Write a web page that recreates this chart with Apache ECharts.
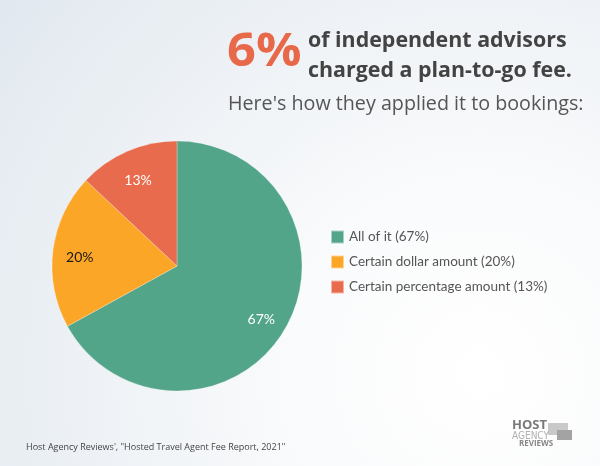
<!DOCTYPE html>
<html>
<head>
<meta charset="utf-8">
<script src="https://cdn.jsdelivr.net/npm/echarts@6/dist/echarts.min.js"></script>
<style>html,body{margin:0;padding:0;}#c{width:600px;height:466px;}</style>
</head>
<body>
<div id="c"></div>
<script>
const categories = ['All of it', 'Certain dollar amount', 'Certain percentage amount'];
const values = [67, 20, 13];
const colors = ['#53a58a', '#fca628', '#e86b4e'];
const labelColors = ['#ffffff', '#1a1a1a', '#ffffff'];

const chart = echarts.init(document.getElementById('c'), null, {renderer: 'canvas'});
const data = categories.map((n, i) => ({name: n, value: values[i], itemStyle: {color: colors[i]}}));
const labelData = categories.map((n, i) => ({
  name: n, value: values[i],
  itemStyle: {color: 'rgba(0,0,0,0)'},
  label: {color: labelColors[i]}
}));

chart.setOption({
  backgroundColor: {
    type: 'radial', x: 0.8, y: 0.8, r: 1.3,
    colorStops: [{offset: 0, color: '#ffffff'}, {offset: 0.3, color: '#fafbfc'}, {offset: 1, color: '#e1e8ef'}]
  },
  animation: false,
  legend: {
    orient: 'vertical', left: 330, top: 229.5, padding: 0,
    itemWidth: 13, itemHeight: 13, itemGap: 10, icon: 'rect',
    data: categories,
    textStyle: {fontFamily: 'Lato', fontSize: 13.5, color: '#555'},
    formatter: name => name + ' (' + values[categories.indexOf(name)] + '%)'
  },
  series: [
    {
      type: 'pie', center: [177, 266], radius: [0, 125], startAngle: 90, clockwise: true,
      data: data, label: {show: false}, labelLine: {show: false},
      itemStyle: {borderColor: 'rgba(255,255,255,0.5)', borderWidth: 0.5},
      emphasis: {disabled: true}
    },
    {
      type: 'pie', center: [177, 266], radius: [65, 125], startAngle: 90, clockwise: true,
      data: labelData, silent: true, legendHoverLink: false,
      label: {show: true, position: 'inside', fontFamily: 'Lato', fontSize: 14,
        formatter: p => p.value + '%'},
      labelLayout: {dy: 4},
      labelLine: {show: false},
      emphasis: {disabled: true}
    }
  ],
  graphic: [
    {type: 'text', left: 227, top: 29.5, scaleX: 1.1, style: {text: '6%', font: 'bold 46px "Open Sans"', fill: '#e8694a'}},
    {type: 'text', left: 308, top: 30.5, style: {text: 'of independent advisors', font: 'bold 21.4px "Open Sans"', fill: '#434343'}},
    {type: 'text', left: 308, top: 60.5, style: {text: 'charged a plan-to-go fee.', font: 'bold 21.4px "Open Sans"', fill: '#434343'}},
    {type: 'text', left: 228, top: 94.5, style: {text: "Here's how they applied it to bookings:", font: '19.7px "Open Sans"', fill: '#555555'}},
    {type: 'text', left: 26, top: 443, style: {text: 'Host Agency Reviews\', "Hosted Travel Agent Fee Report, 2021"', font: '9px "Open Sans"', fill: '#444'}},
    {type: 'rect', shape: {x: 548, y: 423, width: 20, height: 12}, style: {fill: '#c9c9c9'}},
    {type: 'rect', shape: {x: 557, y: 430, width: 15, height: 10}, style: {fill: '#a3a3a3'}},
    {type: 'text', left: 512, top: 419, style: {text: 'HOST', font: 'bold 13px "Open Sans"', fill: '#7a7a7a'}},
    {type: 'text', left: 512, top: 431, style: {text: 'AGENCY', font: '10px "DejaVu Sans Condensed"', fill: '#b0b0b0'}},
    {type: 'text', left: 519, top: 440, style: {text: 'REVIEWS', font: 'bold 8px "Open Sans"', fill: '#888'}}
  ]
});
</script>
</body>
</html>
